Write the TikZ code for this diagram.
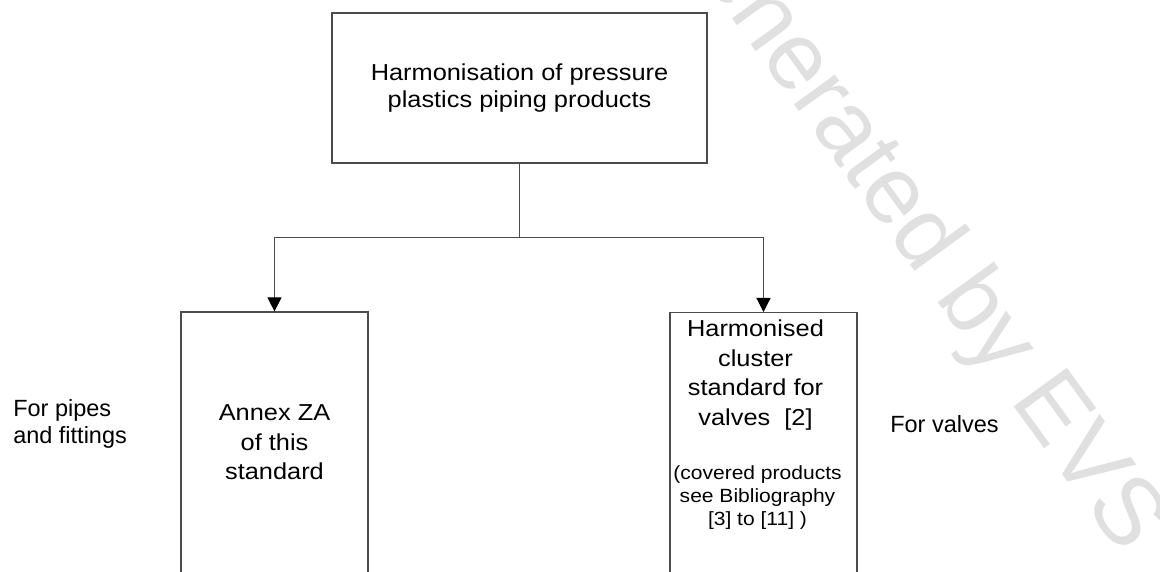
\documentclass[tikz,border=0pt]{standalone}
\usepackage{fontspec}
\setmainfont{Liberation Sans}
\newfontfamily\wideboxfont[FakeStretch=1.1]{Liberation Sans}
\usetikzlibrary{arrows.meta,positioning}

\begin{document}
\begin{tikzpicture}[x=0.025cm,y=-0.025cm,
  box/.style={draw=black!70,line width=0.8pt,align=center,inner sep=0pt},
  link/.style={draw=black!70,line width=0.8pt},
  arrow/.style={link,-{Triangle[width=10pt,length=10pt,color=black]}},
  boxtext/.style={font=\wideboxfont\fontsize{16.4}{21}\selectfont},
  notetext/.style={font=\wideboxfont\fontsize{13.6}{16.4}\selectfont,align=center},
  sidenote/.style={font=\fontsize{16.7}{19}\selectfont,align=left,inner sep=0pt}]
\useasboundingbox (0,0) rectangle (1160,572);
\clip (0,0) rectangle (1160,572);
\node[font=\fontsize{68}{68}\selectfont,text=black!12,rotate=-54,anchor=base east,inner sep=0pt] (evs) at (1122,556) {generated by EVS};
\node[box,font=\wideboxfont\fontsize{16.4}{19.2}\selectfont,minimum width=9.375cm,minimum height=3.75cm] (harm) at (519.5,88) {Harmonisation of pressure\\plastics piping products};
\node[box,boxtext,minimum width=4.675cm,minimum height=6.525cm] (annex) at (274.5,442.5) {Annex ZA\\of this\\standard};
\node[box,minimum width=4.675cm,minimum height=7.5cm,anchor=north] (valves) at (763.5,312) {};
\node[boxtext,align=center,anchor=north,inner sep=0pt] (valvestext) at ([xshift=-0.2cm,yshift=-0.19cm]valves.north) {Harmonised\\cluster\\standard for\\valves~ [2]};
\node[notetext,anchor=north,inner sep=0pt] (valvesnote) at ([xshift=-0.15cm,yshift=-3.825cm]valves.north) {(covered products\\see Bibliography\\{}[3] to [11] )};
\node[sidenote,anchor=north west] (pipes) at (13,399) {For pipes\\and fittings};
\node[sidenote,anchor=base west] (forvalves) at (890,432) {For valves};
\draw[link] (harm.south) -- ++(0,74) coordinate (split);
\draw[arrow] (split) -| (annex.north);
\draw[arrow] (split) -| (valves.north);
\end{tikzpicture}
\end{document}
